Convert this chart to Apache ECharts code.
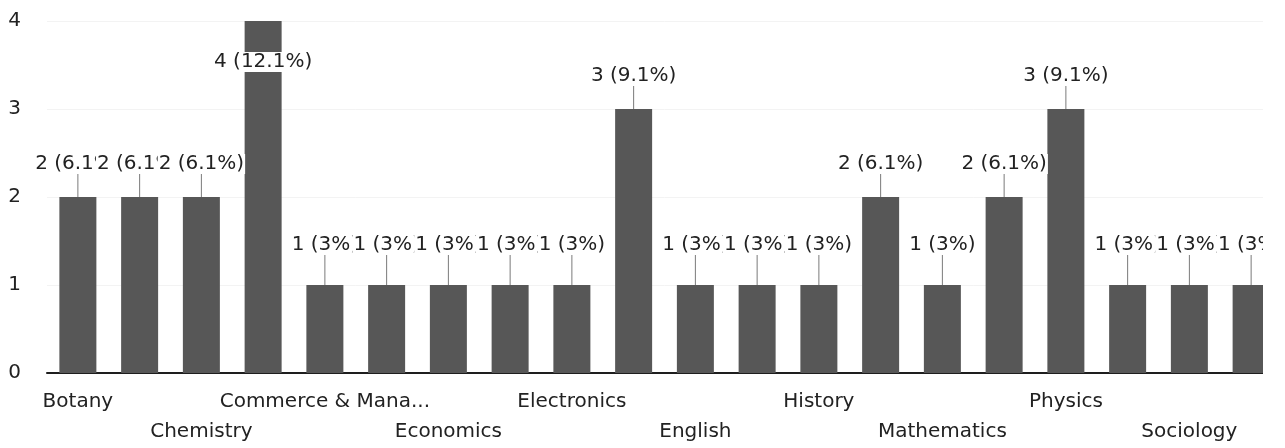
<!DOCTYPE html>
<html>
<head>
<meta charset="utf-8">
<script src="https://cdn.jsdelivr.net/npm/echarts@6/dist/echarts.min.js"></script>
<style>
  html, body { margin: 0; padding: 0; background: #ffffff; }
  #clip { width: 1263px; height: 448px; overflow: hidden; }
  #chart { width: 1285px; height: 448px; }
</style>
</head>
<body>
<div id="clip"><div id="chart"></div></div>
<script>
// Categories (only every other name is legible in the reference; the rest are unlabelled)
const categories = [
  'Botany', '', 'Chemistry', '', 'Commerce & Management', '',
  'Economics', '', 'Electronics', '', 'English', '',
  'History', '', 'Mathematics', '', 'Physics', '', 'Sociology', ''
];
// Response counts per category
const values = [2, 2, 2, 4, 1, 1, 1, 1, 1, 3, 1, 1, 1, 2, 1, 2, 3, 1, 1, 1];
// Total responses implied by the percentages (1 = 3%, 2 = 6.1%, 3 = 9.1%, 4 = 12.1%)
const totalResponses = 33;
// Y axis ticks
const yTicks = [0, 1, 2, 3, 4];

const FONT = 'DejaVu Sans';
const chart = echarts.init(document.getElementById('chart'), null, { renderer: 'canvas' });

chart.setOption({
  animation: false,
  backgroundColor: '#ffffff',
  grid: { left: 47, right: 3, top: 21, bottom: 75, containLabel: false, outerBoundsMode: 'none' },
  xAxis: {
    type: 'category',
    data: categories,
    axisLine: { show: true, lineStyle: { color: '#1e1e1e', width: 2 } },
    axisTick: { show: false },
    axisLabel: {
      interval: 0,
      margin: 14,
      color: '#222',
      fontFamily: FONT,
      fontSize: 20,
      lineHeight: 30,
      width: 215,
      overflow: 'truncate',
      hideOverlap: false,
      formatter: function (name, idx) {
        if (idx % 2 === 1) return '';
        return (idx % 4 === 2) ? '\n' + name : name;
      }
    }
  },
  yAxis: {
    type: 'value',
    min: yTicks[0],
    max: yTicks[yTicks.length - 1],
    interval: 1,
    axisLine: { show: false },
    axisTick: { show: false },
    splitLine: { show: true, lineStyle: { color: '#f3f3f3', width: 1 } },
    axisLabel: { color: '#222', fontFamily: FONT, fontSize: 20, margin: 26 }
  },
  series: [{
    type: 'bar',
    data: values,
    barWidth: 37,
    itemStyle: { color: '#575757' },
    label: {
      show: true,
      position: 'top',
      distance: 5,
      color: '#222',
      fontFamily: FONT,
      fontSize: 20,
      backgroundColor: '#ffffff',
      padding: [0, 1],
      formatter: function (p) {
        const pct = +(p.value / totalResponses * 100).toFixed(1);
        return p.value + ' (' + pct + '%)';
      }
    },
    labelLine: { show: true, lineStyle: { color: '#7a7a7a', width: 1 } },
    labelLayout: function (params) {
      const v = values[params.dataIndex];
      if (params.labelRect.y < 10) return { dy: 56 };
      return { dy: v === 1 ? -25 : -18 };
    }
  }]
});
</script>
</body>
</html>
